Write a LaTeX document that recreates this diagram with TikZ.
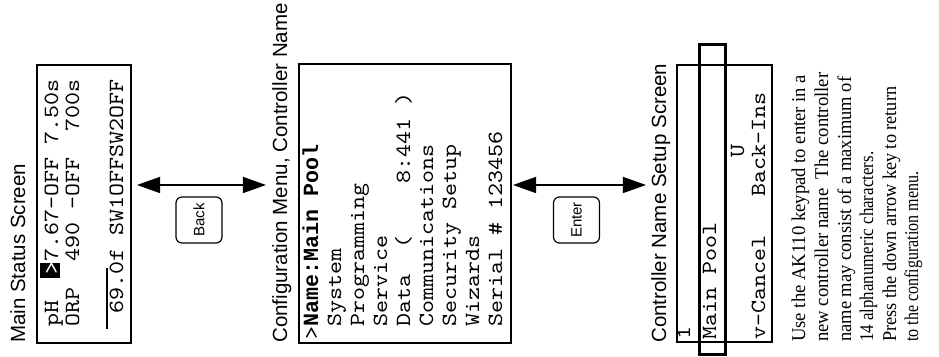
\documentclass[tikz,border=0pt]{standalone}
\usepackage{fontspec}
\usepackage{graphicx}
\setmainfont{Liberation Serif}
\newfontfamily\sansf{Liberation Sans}
\newfontfamily\monob{Liberation Mono}
\newfontfamily\monof[Extension=.otf, FakeStretch=1.143]{lmmono10-regular}
\usetikzlibrary{arrows.meta}
\newcommand{\fitline}[2]{\resizebox{#1}{\height}{#2}}
\begin{document}
\begin{tikzpicture}[x=1pt,y=1pt,
  title/.style={rotate=90, anchor=base west, inner sep=0pt, font=\sansf\fontsize{20.5}{24}\selectfont},
  lcd/.style={rotate=90, anchor=base west, inner sep=0pt, font=\monof\fontsize{21.67}{24}\selectfont},
  note/.style={rotate=90, anchor=base west, inner sep=0pt, font=\fontsize{19.5}{22}\selectfont},
  screen/.style={draw, line width=2pt, inner sep=0pt},
  btn/.style={draw, line width=1.2pt, rounded corners=6pt, minimum width=46pt, minimum height=46pt, inner sep=0pt, rotate=90, font=\sansf\fontsize{15}{17}\selectfont},
  link/.style={line width=1.5pt, {Triangle[length=23pt,width=16pt]}-{Triangle[length=23pt,width=16pt]}}
]
\path[fill=white] (0,0) rectangle (939,356);
\useasboundingbox (0,0) rectangle (939,356);

% titles
\node[title] (t1) at (25,13) {Main Status Screen};
\node[title] (t2) at (287,13) {Configuration Menu, Controller Name};
\node[title] (t3) at (666,13) {Controller Name Setup Screen};

% screens
\node[screen, minimum width=94pt, minimum height=278pt] (s1) at (84,152) {};
\node[screen, minimum width=212pt, minimum height=279pt] (s2) at (405,152.5) {};
\node[screen, minimum width=95pt, minimum height=277pt] (s3) at (724.5,152.5) {};
\node[draw, line width=3pt, minimum width=26pt, minimum height=309pt, inner sep=0pt] (sel) at (712,156.5) {};

% connectors
\coordinate (ay) at (0,171);
\draw[link] ([xshift=5pt]s1.east |- ay) -- ([xshift=-6pt]t2.north |- ay);
\draw[link] ([xshift=1pt]s2.east |- ay) -- ([xshift=-5pt]t3.north |- ay);

% buttons
\node[btn] (back) at (199,136) {Back};
\node[btn] (enter) at (576.5,136) {Enter};

% main status screen text
\fill (40,78) rectangle (60,93);
\node[lcd] (l11) at (58,16) {~pH~~\textcolor{white}{>}7.67-OFF~7.50s};
\node[lcd] (l12) at (79,16) {~ORP~~490~-OFF~~700s};
\draw[line width=1.2pt] (107,27) -- (107,88);
\node[lcd] (l14) at (123,16) {~~69.0f~SW1OFFSW2OFF};

% configuration menu text
\node[lcd] (m1) at (318,16) {>{\monob\bfseries Name:Main~Pool}};
\node[lcd] (m2) at (341,16) {~System};
\node[lcd] (m3) at (364,16) {~Programming};
\node[lcd] (m4) at (387,16) {~Service};
\node[lcd] (m5) at (410,16) {~Data~~(~~~~8:441~)};
\node[lcd] (m6) at (433,16) {~Communications};
\node[lcd] (m7) at (456,16) {~Security~Setup};
\node[lcd] (m8) at (479,16) {~Wizards};
\node[lcd] (m9) at (502,16) {~Serial~\#~123456};

% name setup screen text
\node[lcd] (n1) at (690,16) {1};
\node[lcd] (n2) at (716,16) {Main~Pool};
\node[lcd] (n3) at (744,16) {~~~~~~~~~~~~~~U};
\node[lcd] (n4) at (765,16) {v-Cancel~~~Back-Ins};

% note
\node[note] (p1) at (805,14) {\fitline{267pt}{Use the AK110 keypad to enter in a}};
\node[note] (p2) at (828,14) {\fitline{269pt}{new controller name\ \ The controller}};
\node[note] (p3) at (851,14) {\fitline{265pt}{name may consist of a maximum of}};
\node[note] (p4) at (873,14) {\fitline{190pt}{14 alphanumeric characters.}};
\node[note] (p5) at (896,14) {\fitline{255pt}{Press the down arrow key to return}};
\node[note] (p6) at (918,14) {\fitline{170pt}{to the configuration menu.}};
\end{tikzpicture}
\end{document}
